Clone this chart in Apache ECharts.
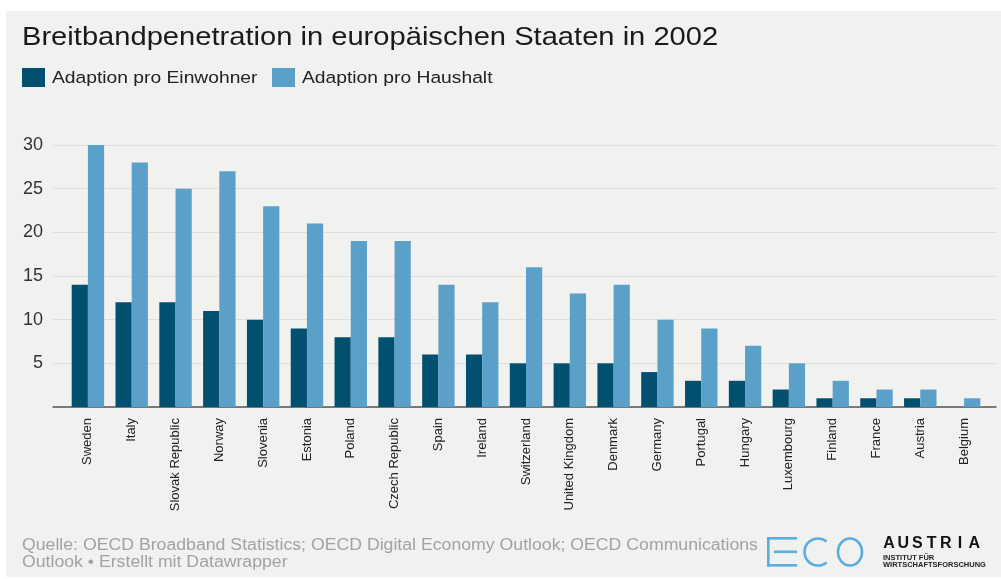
<!DOCTYPE html>
<html>
<head>
<meta charset="utf-8">
<script src="https://cdn.jsdelivr.net/npm/echarts@6/dist/echarts.min.js"></script>
<style>
  html, body { margin: 0; padding: 0; background: #ffffff; }
  #chart { width: 1001px; height: 579px; }
</style>
</head>
<body>
<div id="chart"></div>
<script>
// Broadband adoption per 100 inhabitants / per 100 households, 2002
const categories = ['Sweden', 'Italy', 'Slovak Republic', 'Norway', 'Slovenia', 'Estonia', 'Poland',
  'Czech Republic', 'Spain', 'Ireland', 'Switzerland', 'United Kingdom', 'Denmark', 'Germany',
  'Portugal', 'Hungary', 'Luxembourg', 'Finland', 'France', 'Austria', 'Belgium'];
const perInhabitant = [14, 12, 12, 11, 10, 9, 8, 8, 6, 6, 5, 5, 5, 4, 3, 3, 2, 1, 1, 1, 0];
const perHousehold = [30, 28, 25, 27, 23, 21, 19, 19, 14, 12, 16, 13, 14, 10, 9, 7, 5, 3, 2, 2, 1];
const seriesNames = ['Adaption pro Einwohner', 'Adaption pro Haushalt'];
const yTicks = { min: 0, max: 30, step: 5 };

const titleText = 'Breitbandpenetration in europäischen Staaten in 2002';
const sourceLines = [
  'Quelle: OECD Broadband Statistics; OECD Digital Economy Outlook; OECD Communications',
  'Outlook • Erstellt mit Datawrapper'
];

const DARK = '#02506f';
const LIGHT = '#5aa0c9';
const LOGO = '#5aaedb';
const FONT = "'Liberation Sans', Arial, Helvetica, sans-serif";
const WIDE = 1.12; // header/footer typeface runs wider than Arial

const chart = echarts.init(document.getElementById('chart'), null, { renderer: 'canvas' });

function headerText(text, x, y, size, fill, scale) {
  return { type: 'text', x: x, y: y, scaleX: scale || WIDE,
    style: { text: text, font: size + 'px ' + FONT, fill: fill, verticalAlign: 'middle' } };
}

// Letter-spaced wordmark
const wordmark = 'AUSTRIA'.split('').map((ch, i) => ({
  type: 'text', x: 889 + i * 14.2, y: 544,
  style: { text: ch, font: "bold 16px " + FONT, fill: '#111', align: 'center', verticalAlign: 'middle' }
}));

const option = {
  backgroundColor: '#ffffff',
  animation: false,
  graphic: [
    { type: 'rect', shape: { x: 6, y: 11, width: 995, height: 566 }, style: { fill: '#f1f1f0' }, z: -10 },
    headerText(titleText, 22, 38, 26, '#1a1a1a'),
    { type: 'rect', shape: { x: 22, y: 68, width: 23, height: 19 }, style: { fill: DARK } },
    headerText(seriesNames[0], 52, 78, 17.2, '#222'),
    { type: 'rect', shape: { x: 272, y: 68, width: 23, height: 19 }, style: { fill: LIGHT } },
    headerText(seriesNames[1], 302, 78, 17.2, '#222'),
    headerText(sourceLines[0], 22, 546, 16, '#a2a2a2', 1.105),
    headerText(sourceLines[1], 22, 563, 16, '#a2a2a2', 1.105),
    // "E" of the logo
    { type: 'rect', shape: { x: 767, y: 537, width: 30, height: 2.6 }, style: { fill: LOGO } },
    { type: 'rect', shape: { x: 774, y: 550.5, width: 23, height: 2.6 }, style: { fill: LOGO } },
    { type: 'rect', shape: { x: 767, y: 564, width: 30, height: 2.6 }, style: { fill: LOGO } },
    { type: 'rect', shape: { x: 767, y: 537, width: 2.6, height: 29.6 }, style: { fill: LOGO } },
    // "C"
    { type: 'arc', shape: { cx: 818, cy: 552, r: 13.5, startAngle: Math.PI * 0.28, endAngle: Math.PI * 1.72, clockwise: true },
      style: { stroke: LOGO, lineWidth: 2.6, fill: null } },
    // "O"
    { type: 'ellipse', shape: { cx: 850, cy: 552, rx: 12, ry: 13.5 },
      style: { stroke: LOGO, lineWidth: 2.6, fill: null } },
    ...wordmark,
    { type: 'text', x: 883, y: 558,
      style: { text: 'INSTITUT FÜR', font: "bold 7.5px " + FONT, fill: '#222', verticalAlign: 'middle' } },
    { type: 'text', x: 883, y: 565,
      style: { text: 'WIRTSCHAFTSFORSCHUNG', font: "bold 7.5px " + FONT, fill: '#222', verticalAlign: 'middle' } }
  ],
  grid: [
    // frame grid: gridlines, value labels and baseline across the full width
    { left: 53, right: 5, top: 145, bottom: 172 },
    // bar grid
    { left: 66, right: 15, top: 145, bottom: 172 }
  ],
  xAxis: [
    { gridIndex: 0, type: 'value', min: 0, max: 1, position: 'bottom',
      axisLine: { show: true, lineStyle: { color: '#555', width: 1.5 } },
      axisTick: { show: false }, axisLabel: { show: false }, splitLine: { show: false } },
    { gridIndex: 1, type: 'category', data: categories, boundaryGap: true,
      axisLine: { show: false }, axisTick: { show: false },
      axisLabel: { rotate: 90, interval: 0, margin: 11, fontFamily: FONT, fontSize: 13, color: '#222' } }
  ],
  yAxis: [
    { gridIndex: 0, type: 'value', min: yTicks.min, max: yTicks.max, interval: yTicks.step,
      axisLine: { show: false }, axisTick: { show: false },
      axisLabel: { margin: 10, fontFamily: FONT, fontSize: 18, color: '#333',
        formatter: v => (v === 0 ? '' : String(v)) },
      splitLine: { lineStyle: { color: '#dededc', width: 1 } } },
    { gridIndex: 1, type: 'value', min: yTicks.min, max: yTicks.max, show: false }
  ],
  series: [
    { name: seriesNames[0], type: 'bar', xAxisIndex: 1, yAxisIndex: 1, data: perInhabitant,
      itemStyle: { color: DARK }, barGap: '0%', barCategoryGap: '26%' },
    { name: seriesNames[1], type: 'bar', xAxisIndex: 1, yAxisIndex: 1, data: perHousehold,
      itemStyle: { color: LIGHT }, barGap: '0%', barCategoryGap: '26%' }
  ]
};

chart.setOption(option);
</script>
</body>
</html>
